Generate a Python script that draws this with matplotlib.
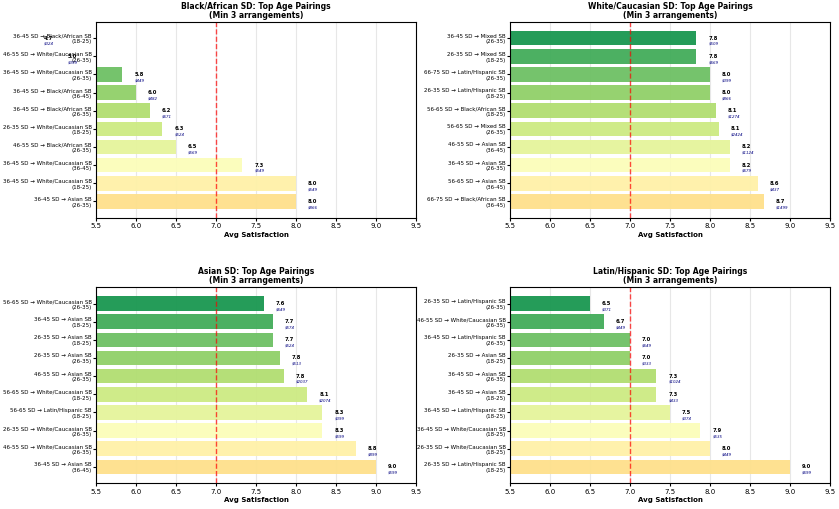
import numpy as np
import matplotlib
matplotlib.use('Agg')
from matplotlib import pyplot as plt, cm

# rows listed top to bottom as shown in each panel
black_labels = ['36-45 SD → Black/African SB\n(18-25)',
                '46-55 SD → White/Caucasian SB\n(26-35)',
                '36-45 SD → White/Caucasian SB\n(26-35)',
                '36-45 SD → Black/African SB\n(36-45)',
                '36-45 SD → Black/African SB\n(26-35)',
                '26-35 SD → White/Caucasian SB\n(18-25)',
                '46-55 SD → Black/African SB\n(26-35)',
                '36-45 SD → White/Caucasian SB\n(36-45)',
                '36-45 SD → White/Caucasian SB\n(18-25)',
                '36-45 SD → Asian SB\n(26-35)']
black_sat = [4.7, 5.0, 5.83, 6.0, 6.17, 6.33, 6.5, 7.33, 8.0, 8.0]
black_price = [324, 399, 449, 482, 671, 524, 569, 549, 549, 866]

white_labels = ['36-45 SD → Mixed SB\n(26-35)',
                '26-35 SD → Mixed SB\n(18-25)',
                '66-75 SD → Latin/Hispanic SB\n(26-35)',
                '26-35 SD → Latin/Hispanic SB\n(18-25)',
                '56-65 SD → Black/African SB\n(18-25)',
                '56-65 SD → Mixed SB\n(26-35)',
                '46-55 SD → Asian SB\n(36-45)',
                '36-45 SD → Asian SB\n(26-35)',
                '56-65 SD → Asian SB\n(36-45)',
                '66-75 SD → Black/African SB\n(36-45)']
white_sat = [7.83, 7.83, 8.0, 8.0, 8.07, 8.11, 8.25, 8.25, 8.6, 8.67]
white_price = [509, 669, 399, 866, 1274, 2424, 1124, 679, 437, 1499]

asian_labels = ['56-65 SD → White/Caucasian SB\n(26-35)',
                '36-45 SD → Asian SB\n(18-25)',
                '26-35 SD → Asian SB\n(18-25)',
                '26-35 SD → Asian SB\n(26-35)',
                '46-55 SD → Asian SB\n(26-35)',
                '56-65 SD → White/Caucasian SB\n(18-25)',
                '56-65 SD → Latin/Hispanic SB\n(18-25)',
                '26-35 SD → White/Caucasian SB\n(26-35)',
                '46-55 SD → White/Caucasian SB\n(26-35)',
                '36-45 SD → Asian SB\n(36-45)']
asian_sat = [7.6, 7.71, 7.71, 7.8, 7.85, 8.14, 8.33, 8.33, 8.75, 9.0]
asian_price = [649, 574, 524, 513, 2037, 2074, 399, 599, 899, 599]

latin_labels = ['26-35 SD → Latin/Hispanic SB\n(26-35)',
                '46-55 SD → White/Caucasian SB\n(26-35)',
                '36-45 SD → Latin/Hispanic SB\n(26-35)',
                '26-35 SD → Asian SB\n(18-25)',
                '36-45 SD → Asian SB\n(26-35)',
                '36-45 SD → Asian SB\n(18-25)',
                '36-45 SD → Latin/Hispanic SB\n(18-25)',
                '36-45 SD → White/Caucasian SB\n(18-25)',
                '26-35 SD → White/Caucasian SB\n(18-25)',
                '26-35 SD → Latin/Hispanic SB\n(18-25)']
latin_sat = [6.5, 6.67, 7.0, 7.0, 7.33, 7.33, 7.5, 7.88, 8.0, 9.0]
latin_price = [371, 449, 649, 333, 1024, 433, 374, 535, 449, 699]

panels = [('Black/African', black_labels, black_sat, black_price),
          ('White/Caucasian', white_labels, white_sat, white_price),
          ('Asian', asian_labels, asian_sat, asian_price),
          ('Latin/Hispanic', latin_labels, latin_sat, latin_price)]

fig, axes = plt.subplots(2, 2, figsize=(8.39, 5.09), dpi=100)
fig.subplots_adjust(left=0.1144, right=0.9893, top=0.9568, bottom=0.0511,
                    wspace=0.294, hspace=0.357)

for ax, (group, labels, sat, price) in zip(axes.flat, panels):
    y = np.arange(len(labels))
    colors = cm.RdYlGn(np.linspace(0.9, 0.4, len(labels)))
    ax.barh(y, sat, height=0.8, color=colors, alpha=0.95)
    ax.set_yticks(y)
    ax.set_yticklabels(labels, fontsize=4.0)
    ax.invert_yaxis()
    ax.set_xlim(5.5, 9.5)
    ax.tick_params(axis='x', labelsize=5.0, length=2, pad=2)
    ax.tick_params(axis='y', length=2, pad=1)
    ax.axvline(7.0, color='red', linestyle='--', linewidth=1, alpha=0.7)
    ax.grid(axis='x', alpha=0.3)
    ax.set_axisbelow(True)
    for yi, v, p in zip(y, sat, price):
        ax.text(v + 0.15, yi, f'{v:.1f}', fontsize=3.8, fontweight='bold',
                va='center', ha='left', clip_on=False)
        ax.text(v + 0.15, yi + 0.32, f'${p}', fontsize=2.9, style='italic',
                color='navy', va='center', ha='left', clip_on=False)
    ax.set_title(f'{group} SD: Top Age Pairings\n(Min 3 arrangements)',
                 fontsize=5.5, fontweight='bold', pad=3, linespacing=1.0)
    ax.set_xlabel('Avg Satisfaction', fontsize=5.0, fontweight='bold', labelpad=2)

fig.savefig('out.png', dpi=100)
